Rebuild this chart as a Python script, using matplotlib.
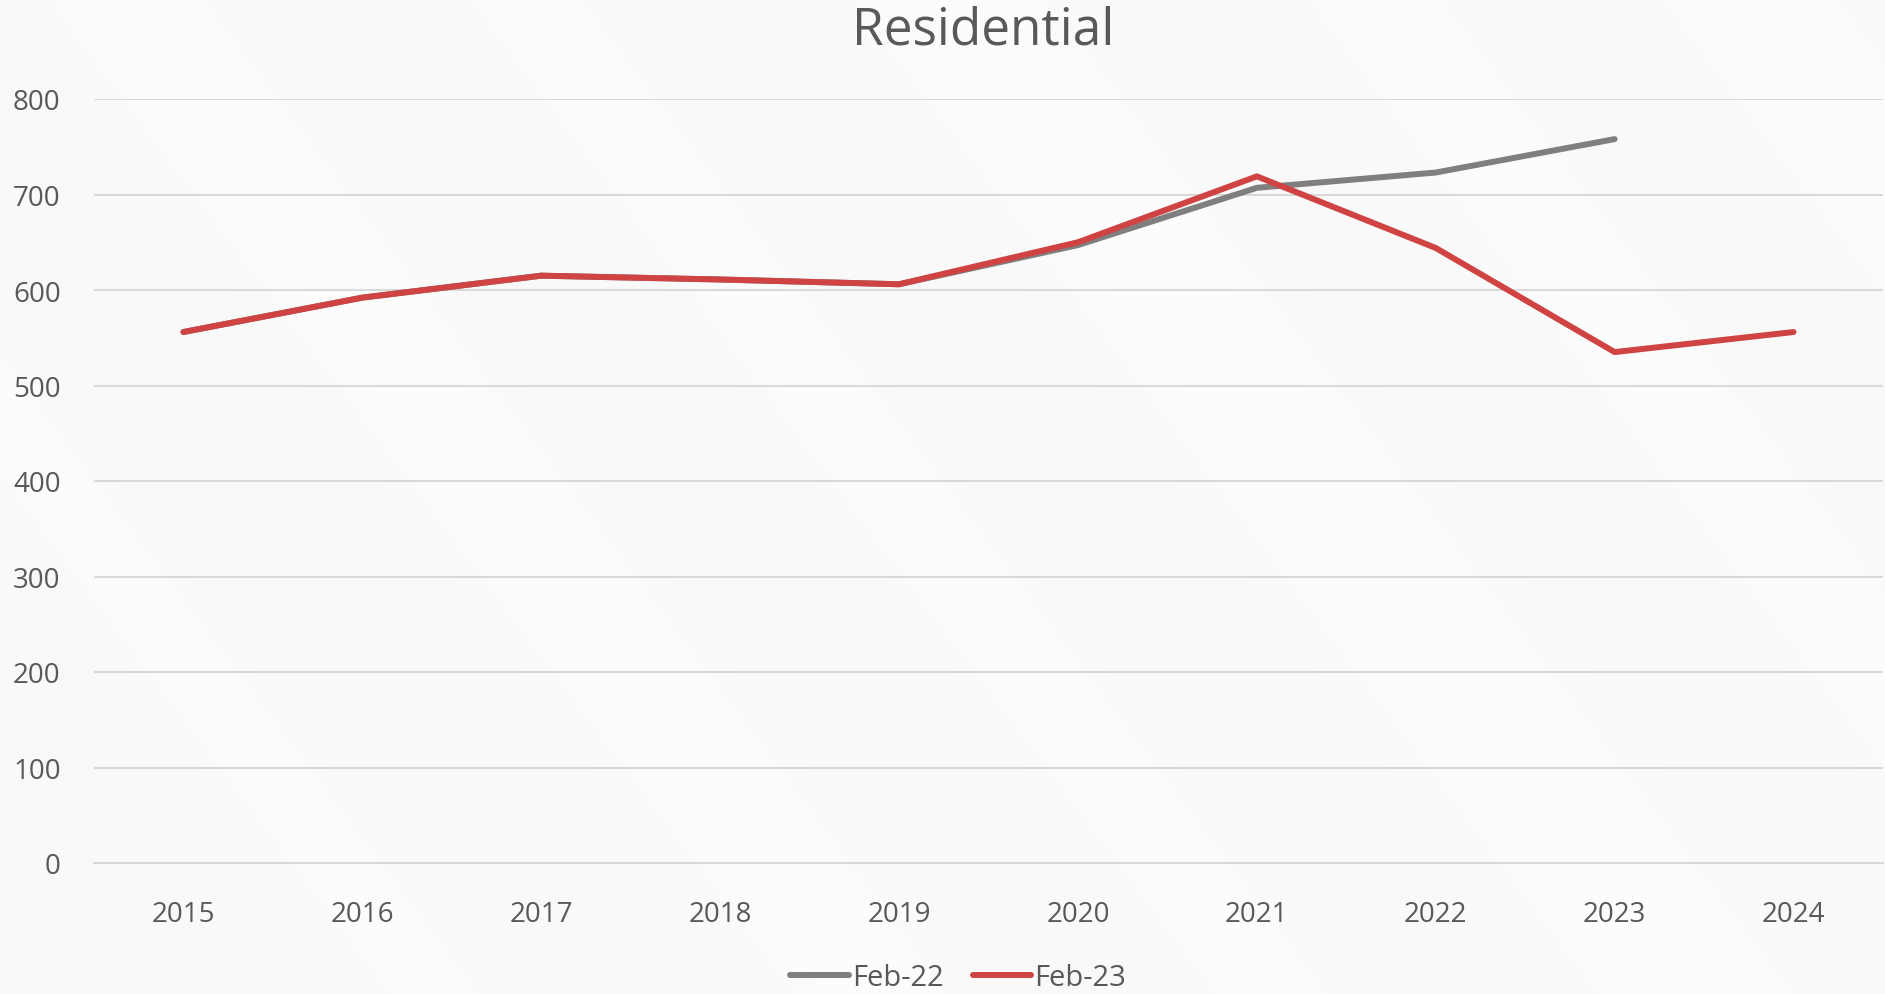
import numpy as np
import matplotlib.pyplot as plt

years = ['2015', '2016', '2017', '2018', '2019', '2020', '2021', '2022', '2023', '2024']
feb22 = [556, 592, 615, 611, 606, 647, 707, 723, 758]
feb23 = [556, 592, 615, 611, 606, 650, 719, 644, 535, 556]

plt.rcParams['font.family'] = ['Open Sans', 'DejaVu Sans']
text_col = '#595959'
bg = '#f9f9f9'

fig = plt.figure(figsize=(18.85, 9.95), dpi=100, facecolor=bg)

# soft diagonal sheen behind the chart
bgax = fig.add_axes([0, 0, 1, 1], zorder=-1)
yy, xx = np.mgrid[0:995:4, 0:1885:4]
t = xx * 0.8 - yy * 0.6
sheen = np.zeros_like(t, dtype=float)
for c, w in [(-250, 40), (100, 70), (420, 50), (760, 90), (1100, 60), (1400, 80)]:
    sheen += np.exp(-((t - c) / w) ** 2)
shade = 0.977 + 0.015 * np.clip(sheen, 0, 1)
bgax.imshow(np.dstack([shade] * 3), extent=[0, 1, 0, 1], aspect='auto',
            interpolation='bilinear')
bgax.axis('off')

ax = fig.add_axes([94 / 1885, 1 - 864 / 995, 1 - 96 / 1885, (864 - 100) / 995])
ax.set_facecolor('none')

x = np.arange(len(years))
ax.plot(x[:len(feb22)], feb22, color='#7f7f7f', lw=4.3, solid_capstyle='round',
        solid_joinstyle='round', label='Feb-22')
ax.plot(x, feb23, color='#d04343', lw=4.3, solid_capstyle='round',
        solid_joinstyle='round', label='Feb-23')

ax.set_xlim(-0.5, len(years) - 0.5)
ax.set_ylim(0, 800)
ax.set_yticks(range(0, 801, 100))
ax.set_xticks(x)
ax.set_xticklabels(years)
ax.grid(axis='y', color='#d9d9d9', lw=1.5)
ax.set_axisbelow(True)
for s in ['top', 'right', 'left']:
    ax.spines[s].set_visible(False)
ax.spines['bottom'].set_color('#d9d9d9')
ax.spines['bottom'].set_linewidth(1.5)
ax.tick_params(length=0, labelsize=20, labelcolor=text_col)
ax.tick_params(axis='y', pad=24)
ax.tick_params(axis='x', pad=27)

fig.text(983 / 1885, 1 - 31 / 995, 'Residential', ha='center', va='center',
         fontsize=37, color=text_col)

fig.legend(loc='center', bbox_to_anchor=(958 / 1885, 1 - 979 / 995), ncol=2,
           frameon=False, fontsize=21, labelcolor=text_col, handlelength=2.0,
           handletextpad=0.1, columnspacing=1.0)

fig.savefig('out.png', dpi=100, facecolor=bg)
